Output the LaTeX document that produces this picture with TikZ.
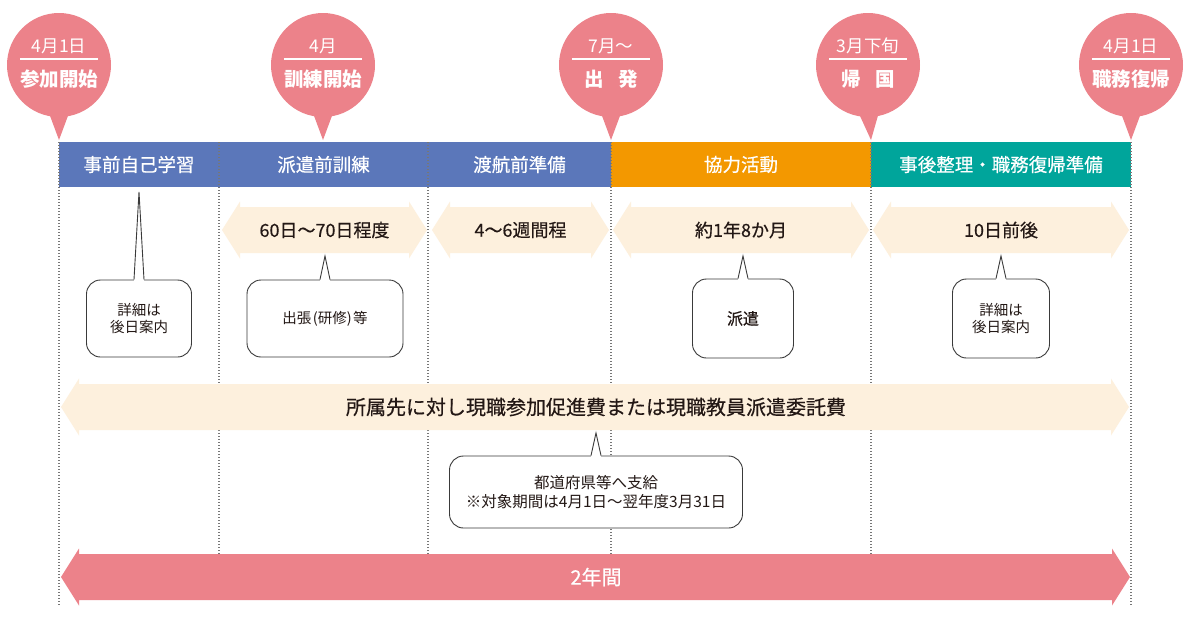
\documentclass[tikz,border=0pt]{standalone}
\usepackage{fontspec}
\setmainfont{Noto Sans CJK JP}
\newfontfamily\medfont[FakeBold=0.5]{Noto Sans CJK JP}
\usetikzlibrary{calc}
\definecolor{pinkc}{HTML}{EC828A}
\definecolor{creamc}{HTML}{FDF0DD}
\definecolor{bluec}{HTML}{5B77BA}
\definecolor{orangec}{HTML}{F39800}
\definecolor{tealc}{HTML}{00A59B}
\definecolor{darkc}{HTML}{231815}
\definecolor{dotc}{HTML}{777777}
\definecolor{linec}{HTML}{3A3A3A}
\newcommand\tlarrow[4]{\fill[#4] (#1,#3) -- (#1+18,#3-28.5) -- (#1+18,#3-23) -- (#2-18,#3-23) -- (#2-18,#3-28.5) -- (#2,#3) -- (#2-18,#3+28.5) -- (#2-18,#3+23) -- (#1+18,#3+23) -- (#1+18,#3+28.5) -- cycle;}
\tikzset{
  barseg/.style={minimum height=45pt, inner sep=0pt, outer sep=0pt, anchor=north west, text=white, font=\medfont\fontsize{18.5}{22}\selectfont},
  gridline/.style={draw=dotc, line width=1.3pt, dash pattern=on 1.2pt off 1.8pt},
  armtext/.style={text=darkc, font=\medfont\fontsize{18}{22}\selectfont, inner sep=0pt},
  bigtext/.style={text=darkc, font=\medfont\fontsize{20}{24}\selectfont, inner sep=0pt},
  callout/.style={draw=linec, fill=white, rounded corners=14pt, line width=0.9pt, align=center, text=darkc, font=\fontsize{14.5}{17.5}\selectfont, inner sep=0pt},
  tailline/.style={draw=linec, line width=0.9pt, line join=miter},
  bubble/.style={circle, fill=pinkc, minimum size=104pt, inner sep=0pt},
  btop/.style={text=white, font=\fontsize{17.5}{20}\selectfont, inner sep=0pt},
  bbot/.style={text=white, font=\bfseries\fontsize{19.5}{22}\selectfont, inner sep=0pt},
}
\begin{document}
\begin{tikzpicture}[x=1pt,y=-1pt]
\useasboundingbox (0,0) rectangle (1192,622);
\fill[white] (0,0) rectangle (1192,622);
% bars
\node[barseg, fill=bluec, minimum width=160pt] (s1) at (59,142) {事前自己学習};
\node[barseg, fill=bluec, minimum width=209pt] (s2) at (219,142) {派遣前訓練};
\node[barseg, fill=bluec, minimum width=183pt] (s3) at (428,142) {渡航前準備};
\node[barseg, fill=orangec, minimum width=260pt] (s4) at (611,142) {協力活動};
\node[barseg, fill=tealc, minimum width=260pt] (s5) at (871,142) {事後整理・職務復帰準備};
% grid lines
\draw[gridline] (59,142) -- (59,605);
\draw[gridline] (1131,142) -- (1131,605);
\foreach \gx in {219,428,611,871} \draw[gridline] (\gx,142) -- (\gx,598);
% row 1 arrows
\tlarrow{222}{427}{230}{creamc}
\tlarrow{432}{609}{230}{creamc}
\tlarrow{613}{869}{230}{creamc}
\tlarrow{873}{1129}{230}{creamc}
\node[armtext] (a1) at (324.5,230) {60日～70日程度};
\node[armtext] (a2) at (520.5,230) {4～6週間程};
\node[armtext] (a3) at (741,230) {約1年8か月};
\node[armtext] (a4) at (1001,230) {10日前後};
% big arrow
\tlarrow{61}{1129}{407}{creamc}
\node[bigtext] (big) at (596,407) {所属先に対し現職参加促進費または現職教員派遣委託費};
% callouts
\node[callout, minimum width=105pt, minimum height=77pt] (c1) at (139,318.5) {詳細は\\後日案内};
\node[callout, minimum width=156pt, minimum height=77pt] (c2) at (325,318.5) {出張\hspace{0.1em}(研修)\hspace{0.1em}等};
\node[callout, minimum width=101pt, minimum height=79pt, font=\medfont\fontsize{16}{18}\selectfont] (c3) at (743,318.5) {派遣};
\node[callout, minimum width=97pt, minimum height=79pt] (c4) at (1001,318.5) {詳細は\\後日案内};
\node[callout, minimum width=293pt, minimum height=72pt, font=\fontsize{15.5}{18.5}\selectfont] (c5) at (596,492) {都道府県等へ支給\\※対象期間は4月1日～翌年度3月31日};
\coordinate (t1) at (139,192);
\coordinate (t2) at (325,256);
\coordinate (t3) at (743,256);
\coordinate (t4) at (1001,256);
\coordinate (t5) at (596,433);
\foreach \c/\t in {c1/t1,c2/t2,c3/t3,c4/t4,c5/t5}{
  \fill[white] ($(\c.north)+(-5,1.2)$) -- (\t) -- ($(\c.north)+(5,1.2)$) -- cycle;
  \draw[tailline] ($(\c.north)+(-5,0)$) -- (\t) -- ($(\c.north)+(5,0)$);
}
% 2 years arrow
\tlarrow{61}{1130}{577}{pinkc}
\node[bigtext, text=white] (two) at (596,577) {2年間};
% bubbles
\foreach \n/\cx/\tx/\top/\bot in {p1/59/59/4月1日/参加開始, p2/323/323/4月/訓練開始, p3/611/611/7月～/出\hspace{0.75em}発, p4/868/871/3月下旬/帰\hspace{0.75em}国, p5/1131/1131/4月1日/職務復帰}{
  \node[bubble] (\n) at (\cx,65) {};
  \coordinate (\n tip) at (\tx,140);
  \fill[pinkc] ($(\n.center)+(-13,40)$) -- (\n tip) -- ($(\n.center)+(13,40)$) -- cycle;
  \node[btop] at ($(\n.center)+(0,-19)$) {\top};
  \draw[white, line width=1.1pt] ($(\n.center)+(-39,-6)$) -- ($(\n.center)+(39,-6)$);
  \node[bbot] at ($(\n.center)+(0,14)$) {\bot};
}
\end{tikzpicture}
\end{document}
